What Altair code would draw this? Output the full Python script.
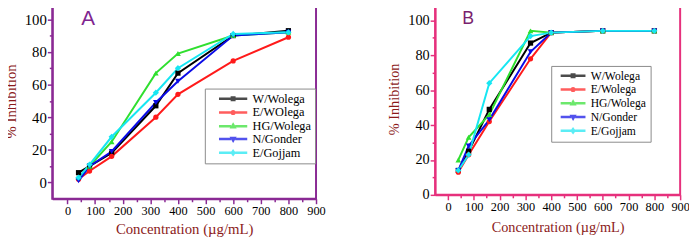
import altair as alt
import pandas as pd

# ---------------- data ----------------
conc = [40, 80, 160, 320, 400, 600, 800]

names_a = ["W/Wolega", "E/WOlega", "HG/Wolega", "N/Gonder", "E/Gojjam"]
names_b = ["W/Wolega", "E/Wolega", "HG/Wolega", "N/Gonder", "E/Gojjam"]

a_w_wolega = [6, 10, 18, 47, 67, 90, 93]
a_e_wolega = [2, 7, 16, 40, 54, 74.5, 89]
a_hg_wolega = [3, 10, 25, 67, 79, 90, 92]
a_n_gonder = [1, 10, 19, 49, 62, 90, 92]
a_e_gojjam = [3, 11, 28, 55, 70, 91, 92]

b_w_wolega = [14, 25, 49, 87, 93, 94, 94]
b_e_wolega = [13, 23, 42, 78, 93, 94, 94]
b_hg_wolega = [20, 33, 46, 94, 93, 94, 94]
b_n_gonder = [14, 28, 43, 82, 93, 94, 94]
b_e_gojjam = [14, 23, 64, 91, 93, 94, 94]

panel_letters = ["A", "B"]
letter_x = [75, 78]
letter_y = [100, 101]

# ---------------- styles ----------------
colors = ["#000000", "#ff1a1a", "#2fdf2f", "#0a0ae6", "#16e6f2"]
shapes = ["square", "circle", "triangle-up", "triangle-down", "diamond"]
sizes = [28, 28, 34, 34, 40]
SERIF = "Liberation Serif"
TITLE_RED = "#8b1a1a"


def legend_paths(half):
    """Custom legend glyphs: dash - marker - dash. `half` = half width in units."""
    seg = "M-%.3f,0H-0.6M0.6,0H%.3f" % (half, half)
    return [
        seg + "M-0.36,-0.36H0.36V0.36H-0.36Z",
        seg + "M0.38,0A0.38,0.38 0 1,1 -0.38,0A0.38,0.38 0 1,1 0.38,0Z",
        seg + "M0,-0.45L0.42,0.3L-0.42,0.3Z",
        seg + "M0,0.45L0.42,-0.3L-0.42,-0.3Z",
        seg + "M0,-0.48L0.36,0L0,0.48L-0.36,0Z",
    ]


def long_df(names, series):
    rows = []
    for n, vals in zip(names, series):
        for c, v in zip(conc, vals):
            rows.append({"conc": c, "inh": v, "series": n})
    return pd.DataFrame(rows)


def panel(names, series, frame, xdom, ydom, yvals, width, height,
          ylab_size, title_size, leg_x, leg_y, leg_half, leg_symoff, leg_laboff,
          leg_font, leg_rowpad, letter, lx, ly, letter_size, letter_color,
          title_pad, xtitle_pad):
    df = long_df(names, series)
    xaxis = alt.Axis(
        values=list(range(0, 901, 50)),
        labelExpr="datum.value % 100 === 0 ? datum.label : ''",
        tickSize={"condition": {"test": "datum.value % 100 === 0", "value": 5}, "value": 3},
        title="Concentration (µg/mL)", titleFont=SERIF, titleFontSize=title_size,
        titleFontWeight="normal", titleColor=TITLE_RED, titlePadding=xtitle_pad,
        labelFont=SERIF, labelFontSize=12.5, labelColor="black", labelPadding=1,
        labelOverlap=False, labelFlush=False, grid=False,
        domainColor=frame, domainWidth=2, tickColor=frame, tickWidth=1.5,
    )
    yaxis = alt.Axis(
        values=yvals,
        labelExpr="datum.value % 20 === 0 ? datum.label : ''",
        tickSize={"condition": {"test": "datum.value % 20 === 0", "value": 5}, "value": 3},
        title="% Inhibition", titleFont=SERIF, titleFontSize=title_size,
        titleFontWeight="normal", titleColor=TITLE_RED, titlePadding=title_pad,
        labelFont=SERIF, labelFontSize=ylab_size, labelColor="black", labelPadding=1,
        labelOverlap=False, labelFlush=False, grid=False,
        domainColor=frame, domainWidth=2, tickColor=frame, tickWidth=1.5,
    )
    x = alt.X("conc:Q", scale=alt.Scale(domain=xdom, nice=False, zero=False), axis=xaxis)
    y = alt.Y("inh:Q", scale=alt.Scale(domain=ydom, nice=False, zero=False), axis=yaxis)

    layers = []
    for i, n in enumerate(names):
        layers.append(
            alt.Chart(df).transform_filter(alt.datum.series == n)
            .mark_line(strokeWidth=2, color=colors[i])
            .encode(x=x, y=y)
        )
    for i, n in enumerate(names):
        layers.append(
            alt.Chart(df).transform_filter(alt.datum.series == n)
            .mark_point(filled=True, shape=shapes[i], size=sizes[i], color=colors[i], opacity=1)
            .encode(x=x, y=y)
        )
    leg = alt.Legend(
        title=None, orient="none", legendX=leg_x, legendY=leg_y,
        strokeColor="#8a8a8a", fillColor="white", padding=4,
        symbolOffset=leg_symoff, symbolSize=49, symbolStrokeWidth=2.5,
        labelFont=SERIF, labelFontSize=leg_font, labelColor="black",
        labelOffset=leg_laboff, rowPadding=leg_rowpad, labelLimit=200,
    )
    layers.append(
        alt.Chart(df).transform_filter("false")
        .mark_point(filled=False, strokeWidth=2.5)
        .encode(
            x=x, y=y,
            color=alt.Color("series:N", scale=alt.Scale(domain=names, range=colors), legend=leg),
            shape=alt.Shape("series:N", scale=alt.Scale(domain=names, range=legend_paths(leg_half)), legend=leg),
        )
    )
    ldf = pd.DataFrame({"conc": [lx], "inh": [ly], "t": [letter]})
    layers.append(
        alt.Chart(ldf).mark_text(
            font="Liberation Sans", fontSize=letter_size, color=letter_color
        ).encode(x=x, y=y, text="t:N")
    )
    return alt.layer(*layers).properties(
        width=width, height=height,
        view=alt.ViewBackground(stroke=frame, strokeWidth=2),
    )


# legend symbol: size 49 -> 7 px square, unit = 3.5 px
panel_a = panel(
    names_a, [a_w_wolega, a_e_wolega, a_hg_wolega, a_n_gonder, a_e_gojjam],
    "#8a2a94", [-55, 900], [-10, 110], list(range(0, 101, 10)), 268, 199,
    15, 15, 155, 87, 4.1, 18.5, 13.5, 12.5, 0, panel_letters[0], letter_x[0], letter_y[0], 21,
    "#7f2590", 6, 5,
)
panel_b = panel(
    names_b, [b_w_wolega, b_e_wolega, b_hg_wolega, b_n_gonder, b_e_gojjam],
    "#e6307c", [-50, 900], [0, 110], list(range(0, 101, 10)), 249, 195,
    14.5, 14.5, 118, 64, 3.6, 12.3, 12, 11.8, 0, panel_letters[1], letter_x[1], letter_y[1], 18,
    "#7a1f6e", 6, 8,
)

chart = alt.hconcat(panel_a, panel_b, spacing=60).resolve_scale(
    x="independent", y="independent", color="independent", shape="independent",
).resolve_legend(color="independent", shape="independent").properties(
    padding={"left": -6, "top": -8, "right": -2, "bottom": 0}
).configure(font=SERIF)

chart.save("out.html", embed_options={"renderer": "svg", "actions": False})
